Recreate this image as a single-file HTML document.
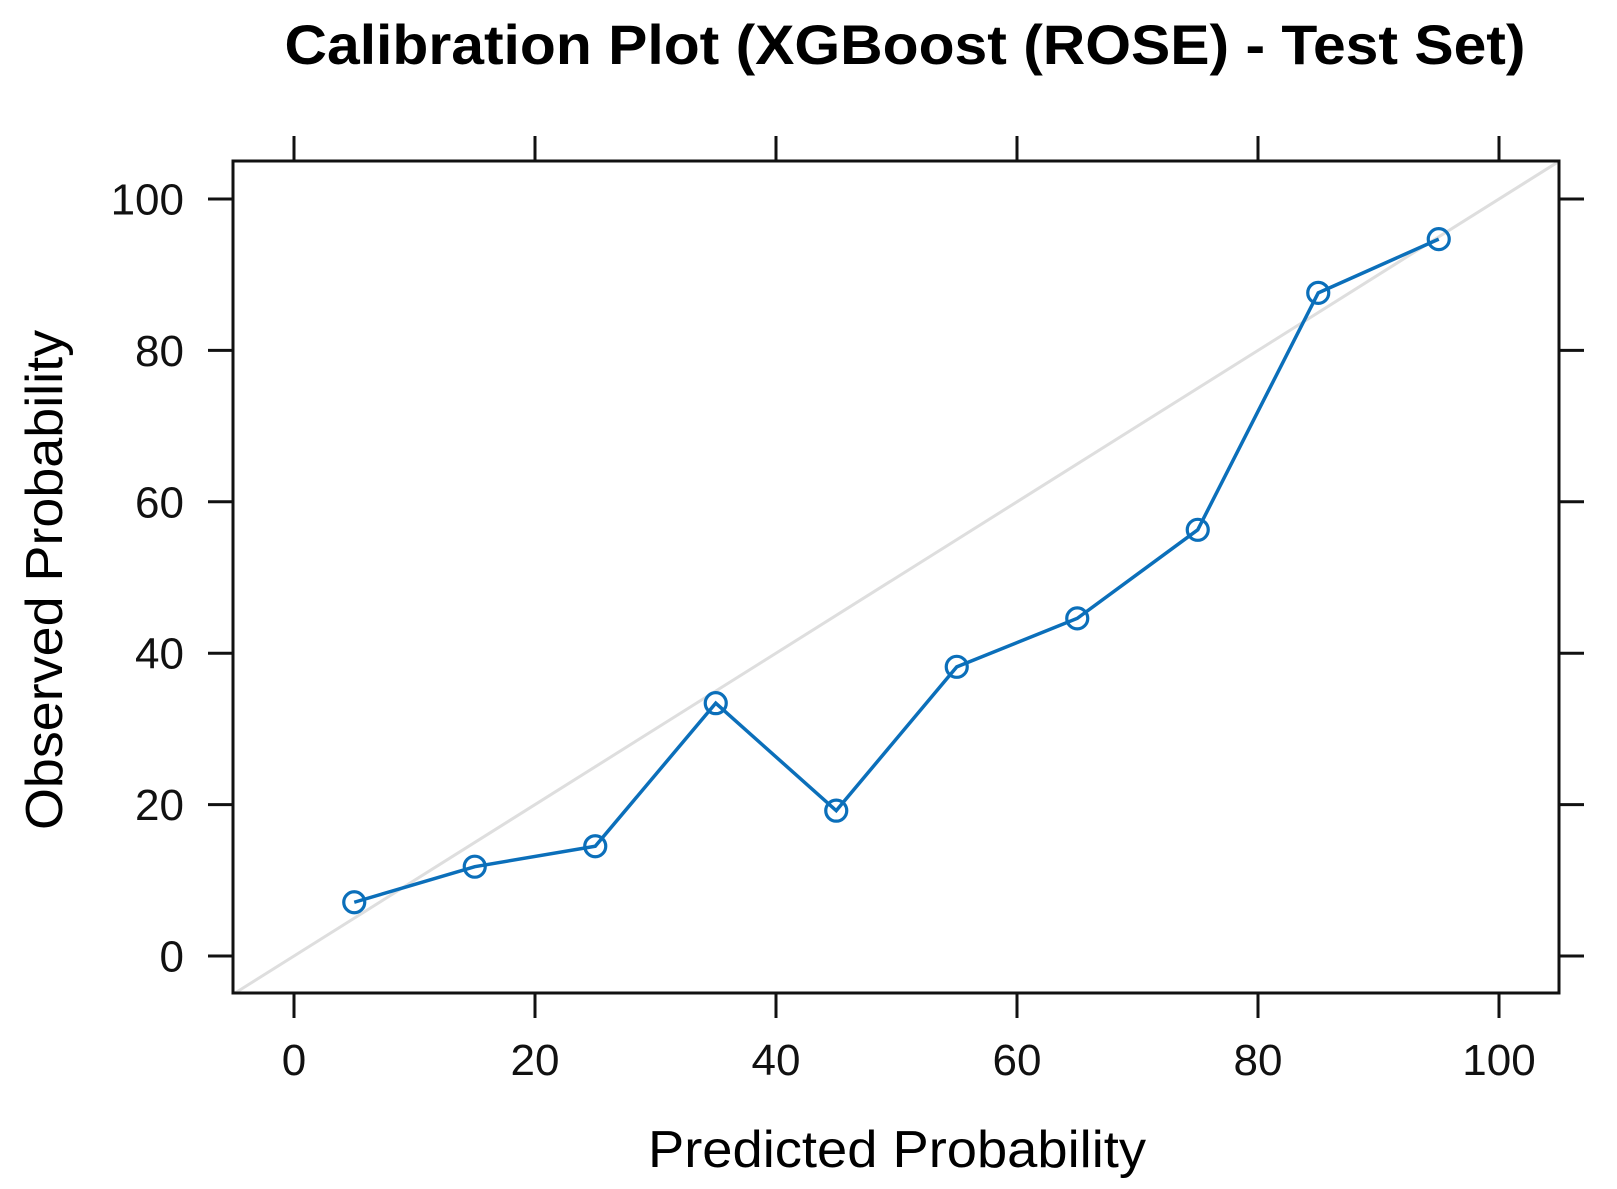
<!DOCTYPE html>
<html><head><meta charset="utf-8"><style>
html,body{margin:0;padding:0;background:#fff;}
svg{display:block;font-family:"Liberation Sans",Arial,sans-serif;}
</style></head><body>
<svg id="chart" width="1617" height="1189" viewBox="0 0 1617 1189" xmlns="http://www.w3.org/2000/svg">
<rect width="1617" height="1189" fill="#fff"/>
<text x="905" y="64" text-anchor="middle" font-size="56" font-weight="bold" textLength="1241" lengthAdjust="spacingAndGlyphs">Calibration Plot (XGBoost (ROSE) - Test Set)</text>
<text x="897" y="1167" text-anchor="middle" font-size="52" textLength="498" lengthAdjust="spacingAndGlyphs">Predicted Probability</text>
<text transform="translate(62,580) rotate(-90)" text-anchor="middle" font-size="52" textLength="500" lengthAdjust="spacingAndGlyphs">Observed Probability</text>
<g id="diag"></g>
<g id="series"></g>
<g id="axes"></g>
</svg>
<script>
const binMids = [5, 15, 25, 35, 45, 55, 65, 75, 85, 95];
const observed = [7.1, 11.8, 14.5, 33.4, 19.2, 38.2, 44.6, 56.3, 87.6, 94.7];
const xTicks = [0, 20, 40, 60, 80, 100];
const yTicks = [0, 20, 40, 60, 80, 100];

const NS = 'http://www.w3.org/2000/svg';
const L = 233, R = 1559, T = 161, B = 993;
const x0 = 294, xPer = (1499 - 294) / 100;
const y0 = 956, yPer = (956 - 199) / 100;
const sx = v => x0 + v * xPer;
const sy = v => y0 - v * yPer;
const xMin = (L - x0) / xPer, xMax = (R - x0) / xPer;
const yMin = (y0 - B) / yPer, yMax = (y0 - T) / yPer;

function mk(tag, attrs, parent) {
  const e = document.createElementNS(NS, tag);
  for (const k in attrs) e.setAttribute(k, attrs[k]);
  parent.appendChild(e);
  return e;
}

const dg = document.getElementById('diag');
const lo = Math.max(xMin, yMin), hi = Math.min(xMax, yMax);
const dl = mk('line', {x1: sx(lo), y1: sy(lo), x2: sx(hi), y2: sy(hi), stroke: '#dedede', 'stroke-width': 3}, dg);



const sg = document.getElementById('series');
const pts = binMids.map((v, i) => sx(v) + ',' + sy(observed[i])).join(' ');
const pl = mk('polyline', {points: pts, fill: 'none', stroke: '#0b6fba', 'stroke-width': 3.5}, sg);


binMids.forEach((v, i) => {
  const c = mk('circle', {cx: sx(v), cy: sy(observed[i]), r: 10.5, fill: 'none', stroke: '#0b6fba', 'stroke-width': 3.2}, sg);
  
  
});

const ag = document.getElementById('axes');
const box = mk('rect', {x: L, y: T, width: R - L, height: B - T, fill: 'none', stroke: '#111', 'stroke-width': 3}, ag);


const TL = 25;
xTicks.forEach(v => {
  const x = sx(v);
  const t1 = mk('line', {x1: x, y1: B, x2: x, y2: B + TL, stroke: '#111', 'stroke-width': 3}, ag);
  
  
  const t2 = mk('line', {x1: x, y1: T, x2: x, y2: T - TL, stroke: '#111', 'stroke-width': 3}, ag);
  
  
  const lb = mk('text', {x: x, y: 1075, 'text-anchor': 'middle', 'font-size': 44, fill: '#111'}, ag);
  lb.textContent = v;
  
  
});
yTicks.forEach(v => {
  const y = sy(v);
  const t1 = mk('line', {x1: L, y1: y, x2: L - TL, y2: y, stroke: '#111', 'stroke-width': 3}, ag);
  
  
  const t2 = mk('line', {x1: R, y1: y, x2: R + TL, y2: y, stroke: '#111', 'stroke-width': 3}, ag);
  
  
  const lb = mk('text', {x: 184, y: y + 15.5, 'text-anchor': 'end', 'font-size': 44, fill: '#111'}, ag);
  lb.textContent = v;
  
  
});
</script>
</body></html>
